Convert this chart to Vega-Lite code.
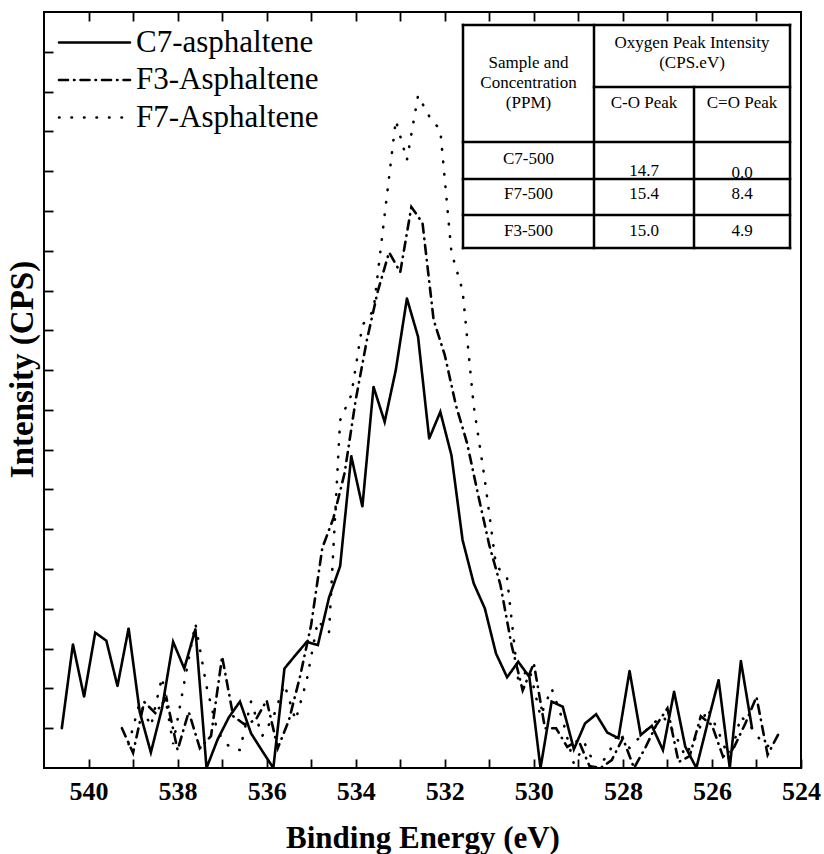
{
  "$schema": "https://vega.github.io/schema/vega-lite/v6.json",
  "width": 757,
  "height": 756,
  "autosize": {"type": "none"},
  "padding": {"left": 44, "top": 12, "right": 23, "bottom": 86},
  "background": "white",
  "config": {"view": {"stroke": "black", "strokeWidth": 2}, "font": "Liberation Serif, Times New Roman, serif"},
  "datasets": {
    "spectra": [
      {"s": "C7-asphaltene", "e": 540.6, "v": 1.0},
      {"s": "C7-asphaltene", "e": 540.35, "v": 3.11},
      {"s": "C7-asphaltene", "e": 540.1, "v": 1.79},
      {"s": "C7-asphaltene", "e": 539.85, "v": 3.4},
      {"s": "C7-asphaltene", "e": 539.6, "v": 3.2},
      {"s": "C7-asphaltene", "e": 539.35, "v": 2.06},
      {"s": "C7-asphaltene", "e": 539.1, "v": 3.51},
      {"s": "C7-asphaltene", "e": 538.85, "v": 1.41},
      {"s": "C7-asphaltene", "e": 538.6, "v": 0.39},
      {"s": "C7-asphaltene", "e": 538.35, "v": 1.5},
      {"s": "C7-asphaltene", "e": 538.1, "v": 3.17},
      {"s": "C7-asphaltene", "e": 537.85, "v": 2.5},
      {"s": "C7-asphaltene", "e": 537.6, "v": 3.49},
      {"s": "C7-asphaltene", "e": 537.35, "v": 0},
      {"s": "C7-asphaltene", "e": 537.1, "v": 0.72},
      {"s": "C7-asphaltene", "e": 536.85, "v": 1.27},
      {"s": "C7-asphaltene", "e": 536.6, "v": 1.67},
      {"s": "C7-asphaltene", "e": 536.35, "v": 0.87},
      {"s": "C7-asphaltene", "e": 536.1, "v": 0.43},
      {"s": "C7-asphaltene", "e": 535.85, "v": 0},
      {"s": "C7-asphaltene", "e": 535.6, "v": 2.5},
      {"s": "C7-asphaltene", "e": 535.35, "v": 2.84},
      {"s": "C7-asphaltene", "e": 535.1, "v": 3.17},
      {"s": "C7-asphaltene", "e": 534.85, "v": 3.09},
      {"s": "C7-asphaltene", "e": 534.6, "v": 4.28},
      {"s": "C7-asphaltene", "e": 534.35, "v": 5.07},
      {"s": "C7-asphaltene", "e": 534.1, "v": 7.84},
      {"s": "C7-asphaltene", "e": 533.85, "v": 6.57},
      {"s": "C7-asphaltene", "e": 533.6, "v": 9.58},
      {"s": "C7-asphaltene", "e": 533.35, "v": 8.7},
      {"s": "C7-asphaltene", "e": 533.1, "v": 10.0},
      {"s": "C7-asphaltene", "e": 532.85, "v": 11.8},
      {"s": "C7-asphaltene", "e": 532.6, "v": 10.84},
      {"s": "C7-asphaltene", "e": 532.35, "v": 8.28},
      {"s": "C7-asphaltene", "e": 532.1, "v": 8.95},
      {"s": "C7-asphaltene", "e": 531.85, "v": 7.86},
      {"s": "C7-asphaltene", "e": 531.6, "v": 5.73},
      {"s": "C7-asphaltene", "e": 531.35, "v": 4.64},
      {"s": "C7-asphaltene", "e": 531.1, "v": 4.01},
      {"s": "C7-asphaltene", "e": 530.85, "v": 2.88},
      {"s": "C7-asphaltene", "e": 530.6, "v": 2.28},
      {"s": "C7-asphaltene", "e": 530.35, "v": 2.67},
      {"s": "C7-asphaltene", "e": 530.1, "v": 2.29},
      {"s": "C7-asphaltene", "e": 529.85, "v": 0},
      {"s": "C7-asphaltene", "e": 529.6, "v": 1.67},
      {"s": "C7-asphaltene", "e": 529.35, "v": 1.54},
      {"s": "C7-asphaltene", "e": 529.1, "v": 0.47},
      {"s": "C7-asphaltene", "e": 528.85, "v": 1.12},
      {"s": "C7-asphaltene", "e": 528.6, "v": 1.35},
      {"s": "C7-asphaltene", "e": 528.35, "v": 0.89},
      {"s": "C7-asphaltene", "e": 528.1, "v": 0.75},
      {"s": "C7-asphaltene", "e": 527.85, "v": 2.44},
      {"s": "C7-asphaltene", "e": 527.6, "v": 0.83},
      {"s": "C7-asphaltene", "e": 527.35, "v": 1.06},
      {"s": "C7-asphaltene", "e": 527.1, "v": 0.45},
      {"s": "C7-asphaltene", "e": 526.85, "v": 1.92},
      {"s": "C7-asphaltene", "e": 526.6, "v": 0.54},
      {"s": "C7-asphaltene", "e": 526.35, "v": 0},
      {"s": "C7-asphaltene", "e": 526.1, "v": 1.12},
      {"s": "C7-asphaltene", "e": 525.85, "v": 2.21},
      {"s": "C7-asphaltene", "e": 525.6, "v": 0},
      {"s": "C7-asphaltene", "e": 525.35, "v": 2.69},
      {"s": "C7-asphaltene", "e": 525.1, "v": 1.0},

      {"s": "F3-Asphaltene", "e": 539.25, "v": 1.0},
      {"s": "F3-Asphaltene", "e": 539.0, "v": 0.38},
      {"s": "F3-Asphaltene", "e": 538.75, "v": 1.66},
      {"s": "F3-Asphaltene", "e": 538.5, "v": 1.38},
      {"s": "F3-Asphaltene", "e": 538.25, "v": 1.76},
      {"s": "F3-Asphaltene", "e": 538.0, "v": 0.45},
      {"s": "F3-Asphaltene", "e": 537.75, "v": 1.41},
      {"s": "F3-Asphaltene", "e": 537.5, "v": 0.5},
      {"s": "F3-Asphaltene", "e": 537.25, "v": 0.8},
      {"s": "F3-Asphaltene", "e": 537.0, "v": 2.8},
      {"s": "F3-Asphaltene", "e": 536.75, "v": 1.3},
      {"s": "F3-Asphaltene", "e": 536.5, "v": 1.1},
      {"s": "F3-Asphaltene", "e": 536.25, "v": 1.2},
      {"s": "F3-Asphaltene", "e": 536.0, "v": 1.7},
      {"s": "F3-Asphaltene", "e": 535.75, "v": 0.5},
      {"s": "F3-Asphaltene", "e": 535.5, "v": 1.2},
      {"s": "F3-Asphaltene", "e": 535.25, "v": 2.3},
      {"s": "F3-Asphaltene", "e": 535.0, "v": 3.6},
      {"s": "F3-Asphaltene", "e": 534.75, "v": 5.53},
      {"s": "F3-Asphaltene", "e": 534.5, "v": 6.28},
      {"s": "F3-Asphaltene", "e": 534.25, "v": 7.41},
      {"s": "F3-Asphaltene", "e": 534.0, "v": 9.25},
      {"s": "F3-Asphaltene", "e": 533.75, "v": 10.75},
      {"s": "F3-Asphaltene", "e": 533.5, "v": 12.0},
      {"s": "F3-Asphaltene", "e": 533.25, "v": 12.96},
      {"s": "F3-Asphaltene", "e": 533.0, "v": 12.46},
      {"s": "F3-Asphaltene", "e": 532.75, "v": 14.1},
      {"s": "F3-Asphaltene", "e": 532.5, "v": 13.7},
      {"s": "F3-Asphaltene", "e": 532.25, "v": 11.26},
      {"s": "F3-Asphaltene", "e": 532.0, "v": 10.38},
      {"s": "F3-Asphaltene", "e": 531.75, "v": 9.12},
      {"s": "F3-Asphaltene", "e": 531.5, "v": 8.17},
      {"s": "F3-Asphaltene", "e": 531.25, "v": 6.86},
      {"s": "F3-Asphaltene", "e": 531.0, "v": 5.6},
      {"s": "F3-Asphaltene", "e": 530.75, "v": 4.6},
      {"s": "F3-Asphaltene", "e": 530.5, "v": 3.09},
      {"s": "F3-Asphaltene", "e": 530.25, "v": 1.95},
      {"s": "F3-Asphaltene", "e": 530.0, "v": 2.63},
      {"s": "F3-Asphaltene", "e": 529.75, "v": 1.0},
      {"s": "F3-Asphaltene", "e": 529.5, "v": 1.0},
      {"s": "F3-Asphaltene", "e": 529.25, "v": 0.53},
      {"s": "F3-Asphaltene", "e": 529.0, "v": 0.7},
      {"s": "F3-Asphaltene", "e": 528.75, "v": 0.05},
      {"s": "F3-Asphaltene", "e": 528.5, "v": 0},
      {"s": "F3-Asphaltene", "e": 528.25, "v": 0.2},
      {"s": "F3-Asphaltene", "e": 528.0, "v": 0.75},
      {"s": "F3-Asphaltene", "e": 527.75, "v": 0},
      {"s": "F3-Asphaltene", "e": 527.5, "v": 0.5},
      {"s": "F3-Asphaltene", "e": 527.25, "v": 1.08},
      {"s": "F3-Asphaltene", "e": 527.0, "v": 1.5},
      {"s": "F3-Asphaltene", "e": 526.75, "v": 0.15},
      {"s": "F3-Asphaltene", "e": 526.5, "v": 0.3},
      {"s": "F3-Asphaltene", "e": 526.25, "v": 1.3},
      {"s": "F3-Asphaltene", "e": 526.0, "v": 1.08},
      {"s": "F3-Asphaltene", "e": 525.75, "v": 0.28},
      {"s": "F3-Asphaltene", "e": 525.5, "v": 0.53},
      {"s": "F3-Asphaltene", "e": 525.25, "v": 1.12},
      {"s": "F3-Asphaltene", "e": 525.0, "v": 1.79},
      {"s": "F3-Asphaltene", "e": 524.75, "v": 0.33},
      {"s": "F3-Asphaltene", "e": 524.5, "v": 0.87},

      {"s": "F7-Asphaltene", "e": 539.1, "v": 0.6},
      {"s": "F7-Asphaltene", "e": 538.85, "v": 1.65},
      {"s": "F7-Asphaltene", "e": 538.6, "v": 1.05},
      {"s": "F7-Asphaltene", "e": 538.35, "v": 2.28},
      {"s": "F7-Asphaltene", "e": 538.1, "v": 0.6},
      {"s": "F7-Asphaltene", "e": 537.85, "v": 2.15},
      {"s": "F7-Asphaltene", "e": 537.6, "v": 3.63},
      {"s": "F7-Asphaltene", "e": 537.35, "v": 2.05},
      {"s": "F7-Asphaltene", "e": 537.1, "v": 0.9},
      {"s": "F7-Asphaltene", "e": 536.85, "v": 0.55},
      {"s": "F7-Asphaltene", "e": 536.6, "v": 0.45},
      {"s": "F7-Asphaltene", "e": 536.35, "v": 1.67},
      {"s": "F7-Asphaltene", "e": 536.1, "v": 0.8},
      {"s": "F7-Asphaltene", "e": 535.85, "v": 1.28},
      {"s": "F7-Asphaltene", "e": 535.6, "v": 2.1},
      {"s": "F7-Asphaltene", "e": 535.35, "v": 1.2},
      {"s": "F7-Asphaltene", "e": 535.1, "v": 2.2},
      {"s": "F7-Asphaltene", "e": 534.85, "v": 3.7},
      {"s": "F7-Asphaltene", "e": 534.6, "v": 3.4},
      {"s": "F7-Asphaltene", "e": 534.35, "v": 8.74},
      {"s": "F7-Asphaltene", "e": 534.1, "v": 9.37},
      {"s": "F7-Asphaltene", "e": 533.85, "v": 11.13},
      {"s": "F7-Asphaltene", "e": 533.6, "v": 11.5},
      {"s": "F7-Asphaltene", "e": 533.35, "v": 13.9},
      {"s": "F7-Asphaltene", "e": 533.1, "v": 16.28},
      {"s": "F7-Asphaltene", "e": 532.85, "v": 15.28},
      {"s": "F7-Asphaltene", "e": 532.6, "v": 16.9},
      {"s": "F7-Asphaltene", "e": 532.35, "v": 16.38},
      {"s": "F7-Asphaltene", "e": 532.1, "v": 16.03},
      {"s": "F7-Asphaltene", "e": 531.85, "v": 12.96},
      {"s": "F7-Asphaltene", "e": 531.6, "v": 12.0},
      {"s": "F7-Asphaltene", "e": 531.35, "v": 9.1},
      {"s": "F7-Asphaltene", "e": 531.1, "v": 7.24},
      {"s": "F7-Asphaltene", "e": 530.85, "v": 5.1},
      {"s": "F7-Asphaltene", "e": 530.6, "v": 4.77},
      {"s": "F7-Asphaltene", "e": 530.35, "v": 2.2},
      {"s": "F7-Asphaltene", "e": 530.1, "v": 2.5},
      {"s": "F7-Asphaltene", "e": 529.85, "v": 1.3},
      {"s": "F7-Asphaltene", "e": 529.6, "v": 2.0},
      {"s": "F7-Asphaltene", "e": 529.35, "v": 1.2},
      {"s": "F7-Asphaltene", "e": 529.1, "v": 0.1},
      {"s": "F7-Asphaltene", "e": 528.85, "v": 0.6},
      {"s": "F7-Asphaltene", "e": 528.6, "v": 0},
      {"s": "F7-Asphaltene", "e": 528.35, "v": 0.3},
      {"s": "F7-Asphaltene", "e": 528.1, "v": 0.9},
      {"s": "F7-Asphaltene", "e": 527.85, "v": 0.5},
      {"s": "F7-Asphaltene", "e": 527.6, "v": 0.8},
      {"s": "F7-Asphaltene", "e": 527.35, "v": 1.1},
      {"s": "F7-Asphaltene", "e": 527.1, "v": 1.3},
      {"s": "F7-Asphaltene", "e": 526.85, "v": 0.9},
      {"s": "F7-Asphaltene", "e": 526.6, "v": 0.3},
      {"s": "F7-Asphaltene", "e": 526.35, "v": 0.8},
      {"s": "F7-Asphaltene", "e": 526.1, "v": 1.5},
      {"s": "F7-Asphaltene", "e": 525.85, "v": 0.9},
      {"s": "F7-Asphaltene", "e": 525.6, "v": 0.2},
      {"s": "F7-Asphaltene", "e": 525.35, "v": 1.3},
      {"s": "F7-Asphaltene", "e": 525.1, "v": 1.0},
      {"s": "F7-Asphaltene", "e": 524.85, "v": 0.6},
      {"s": "F7-Asphaltene", "e": 524.6, "v": 0.5}
    ],
    "tableLines": [
      {"x1": 0, "x2": 3, "y1": 0, "y2": 0},
      {"x1": 0, "x2": 3, "y1": 5, "y2": 5},
      {"x1": 0, "x2": 0, "y1": 0, "y2": 5},
      {"x1": 3, "x2": 3, "y1": 0, "y2": 5},
      {"x1": 1, "x2": 1, "y1": 0, "y2": 5},
      {"x1": 2, "x2": 2, "y1": 1, "y2": 5},
      {"x1": 1, "x2": 3, "y1": 1, "y2": 1},
      {"x1": 0, "x2": 3, "y1": 2, "y2": 2},
      {"x1": 0, "x2": 3, "y1": 3, "y2": 3},
      {"x1": 0, "x2": 3, "y1": 4, "y2": 4}
    ],
    "tableText": [
      {"t": "Sample and\nConcentration\n(PPM)", "tx": 0.5, "ty": 0.613},
      {"t": "Oxygen Peak Intensity\n(CPS.eV)", "tx": 1.98, "ty": 0.29},
      {"t": "C-O Peak", "tx": 1.5, "ty": 1.29},
      {"t": "C=O Peak", "tx": 2.5, "ty": 1.29},
      {"t": "C7-500", "tx": 0.5, "ty": 2.47},
      {"t": "14.7", "tx": 1.5, "ty": 2.79},
      {"t": "0.0", "tx": 2.5, "ty": 2.84},
      {"t": "F7-500", "tx": 0.5, "ty": 3.43},
      {"t": "15.4", "tx": 1.5, "ty": 3.43},
      {"t": "8.4", "tx": 2.5, "ty": 3.43},
      {"t": "F3-500", "tx": 0.5, "ty": 4.48},
      {"t": "15.0", "tx": 1.5, "ty": 4.48},
      {"t": "4.9", "tx": 2.5, "ty": 4.48}
    ]
  },
  "layer": [
    {
      "data": {"name": "spectra"},
      "layer": [
        {
          "mark": {"type": "line", "strokeWidth": 2.6, "strokeCap": "round", "color": "black", "clip": true},
          "encoding": {
            "x": {
              "field": "e", "type": "quantitative",
              "scale": {"domain": [524, 541], "reverse": true, "nice": false, "zero": false},
              "axis": {
                "orient": "bottom",
                "values": [524, 525, 526, 527, 528, 529, 530, 531, 532, 533, 534, 535, 536, 537, 538, 539, 540],
                "labelExpr": "datum.value % 2 == 0 ? datum.label : ''",
                "title": "Binding Energy (eV)",
                "titleFont": "Liberation Serif, Times New Roman, serif", "titleFontSize": 31, "titleFontWeight": "bold", "titleColor": "black",
                "titleY": 79, "titleBaseline": "alphabetic",
                "labelFont": "Liberation Serif, Times New Roman, serif", "labelFontSize": 26, "labelFontWeight": "bold", "labelColor": "black",
                "labelFlush": false, "labelOverlap": false, "labelPadding": 19,
                "tickSize": -9, "tickWidth": 1.8, "tickColor": "black",
                "domain": false, "grid": false
              }
            },
            "y": {
              "field": "v", "type": "quantitative",
              "scale": {"domain": [0, 19], "nice": false, "zero": false},
              "axis": {
                "orient": "left",
                "values": [1, 2, 3, 4, 5, 6, 7, 8, 9, 10, 11, 12, 13, 14, 15, 16, 17, 18],
                "labels": false,
                "title": "Intensity (CPS)",
                "titleFont": "Liberation Serif, Times New Roman, serif", "titleFontSize": 33, "titleFontWeight": "bold", "titleColor": "black",
                "titleX": -22, "titleY": 357, "titleAngle": -90, "titleAlign": "center", "titleBaseline": "middle",
                "tickSize": -9, "tickWidth": 1.8, "tickColor": "black",
                "domain": false, "grid": false
              }
            },
            "strokeDash": {
              "field": "s", "type": "nominal",
              "scale": {
                "domain": ["C7-asphaltene", "F3-Asphaltene", "F7-Asphaltene"],
                "range": [[1, 0], [9, 6, 0.5, 6], [0.5, 12]]
              },
              "legend": {
                "orient": "none", "legendX": 31, "legendY": 11,
                "title": null, "padding": 0,
                "symbolType": "M-2,0H2", "symbolSize": 1260, "symbolStrokeWidth": 2.6,
                "symbolStrokeColor": "black", "symbolFillColor": "transparent",
                "labelFont": "Liberation Serif, Times New Roman, serif", "labelFontSize": 31, "labelColor": "black",
                "labelOffset": 22, "rowPadding": 2.5, "labelLimit": 400,
                "encode": {"symbols": {"update": {"strokeCap": {"value": "round"}}}}
              }
            }
          }
        },
        {
          "mark": {"type": "point", "opacity": 0},
          "encoding": {
            "x": {
              "field": "e", "type": "quantitative",
              "axis": {
                "orient": "top",
                "values": [525, 526, 527, 528, 529, 530, 531, 532, 533, 534, 535, 536, 537, 538, 539, 540],
                "labels": false, "title": null,
                "tickSize": -9, "tickWidth": 1.8, "tickColor": "black",
                "domain": false, "grid": false
              }
            }
          }
        }
      ]
    },
    {
      "layer": [
        {
          "data": {"name": "tableLines"},
          "mark": {"type": "rule", "color": "black", "strokeWidth": 2.5, "strokeCap": "square"},
          "encoding": {
            "x": {"field": "x1", "type": "quantitative", "scale": {"domain": [0, 1, 2, 3], "range": [419, 550, 650, 746], "zero": false, "nice": false}, "axis": null},
            "x2": {"field": "x2"},
            "y": {"field": "y1", "type": "quantitative", "scale": {"domain": [0, 1, 2, 3, 4, 5], "range": [13, 75, 130, 167, 203, 236], "zero": false, "nice": false}, "axis": null},
            "y2": {"field": "y2"}
          }
        },
        {
          "data": {"name": "tableText"},
          "mark": {"type": "text", "font": "Liberation Serif, Times New Roman, serif", "fontSize": 17, "color": "black", "align": "center", "baseline": "middle", "lineBreak": "\n", "lineHeight": 20},
          "encoding": {
            "x": {"field": "tx", "type": "quantitative", "axis": null},
            "y": {"field": "ty", "type": "quantitative", "axis": null},
            "text": {"field": "t", "type": "nominal"}
          }
        }
      ]
    }
  ],
  "resolve": {"scale": {"x": "independent", "y": "independent"}}
}
